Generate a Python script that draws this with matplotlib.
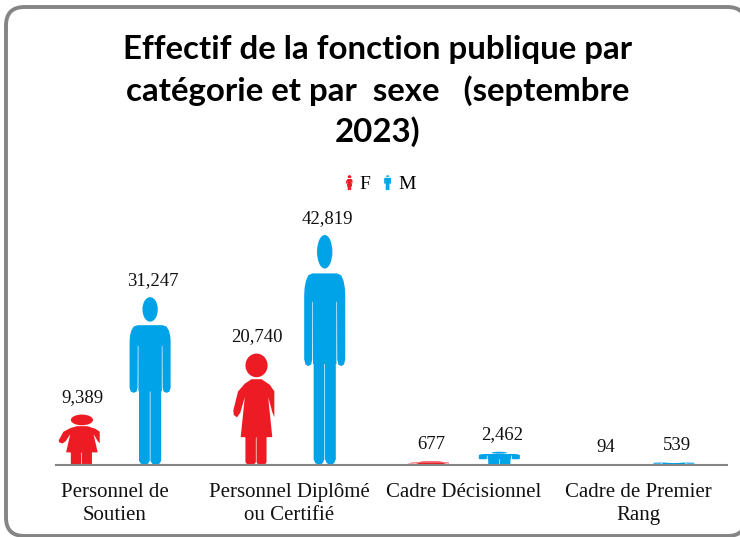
import numpy as np
import matplotlib
matplotlib.use('Agg')
import matplotlib.pyplot as plt
from matplotlib.legend_handler import HandlerPatch
from matplotlib.patches import FancyBboxPatch, PathPatch
from matplotlib.path import Path
from matplotlib.transforms import Affine2D

# values
categories = ['Personnel de\nSoutien', 'Personnel Diplômé\nou Certifié', 'Cadre Décisionnel', 'Cadre de Premier\nRang']
femmes = [9389, 20740, 677, 94]
hommes = [31247, 42819, 2462, 539]

RED = '#ed1c24'
BLUE = '#00a2e8'
W, H = 740, 537


def oval(cx, cy, rx, ry):
    return Path.unit_circle().transformed(Affine2D().scale(rx, ry).translate(cx, cy))


def poly(pts):
    pts = np.array(pts + [pts[0]], dtype=float)
    codes = [Path.MOVETO] + [Path.LINETO] * (len(pts) - 2) + [Path.CLOSEPOLY]
    return Path(pts, codes)


def leg(x0, x1, top):
    # rounded at the foot
    mid = (x0 + x1) / 2
    return poly([(x0, top), (x1, top), (x1, 0.025), (mid + 0.09, 0.008), (mid, 0),
                 (mid - 0.09, 0.008), (x0, 0.025)])


def man_icon():
    # unit silhouette, x in -0.5..0.5, y in 0..1
    right = [(0.30, 0.833), (0.40, 0.825), (0.46, 0.80), (0.49, 0.77), (0.50, 0.74), (0.50, 0.46),
             (0.47, 0.437), (0.40, 0.43), (0.33, 0.437), (0.305, 0.46), (0.30, 0.71), (0.285, 0.71),
             (0.285, 0.44)]
    left = [(-a, b) for a, b in reversed(right)]
    return Path.make_compound_path(oval(0, 0.927, 0.187, 0.073), poly(right + left),
                                   leg(-0.27, -0.008, 0.45), leg(0.008, 0.27, 0.45))


def woman_icon():
    # right arm is cut off in the source icon
    body = poly([(-0.057, 0.77), (0.19, 0.77), (0.39, 0.72), (0.50, 0.66), (0.50, 0.43), (0.45, 0.475),
                 (0.35, 0.61), (0.45, 0.25), (-0.32, 0.25), (-0.22, 0.61), (-0.33, 0.47), (-0.41, 0.427),
                 (-0.49, 0.45), (-0.50, 0.49), (-0.385, 0.66), (-0.22, 0.73)])
    return Path.make_compound_path(oval(0.066, 0.894, 0.27, 0.106), body,
                                   leg(-0.205, 0.05, 0.26), leg(0.066, 0.31, 0.26))


MAN = man_icon()
WOMAN = woman_icon()

fig = plt.figure(figsize=(W / 100, H / 100), dpi=100)
fig.patch.set_facecolor('white')

# rounded frame of the slide, runs off the right edge
fig.add_artist(FancyBboxPatch((6 / W, 1 - 536 / H), 740 / W, 529 / H,
                              boxstyle='round,pad=0,rounding_size=0.025', transform=fig.transFigure,
                              fc='white', ec='#858585', lw=2.8, mutation_aspect=W / H, zorder=-1))

ax = fig.add_axes([56 / W, 1 - 465 / H, 671 / W, 230 / H])
ax.patch.set_alpha(0)
ax.set_xlim(-0.336, 3.507)
ax.set_ylim(0, 42819)

x = np.arange(len(categories))
off = 0.203
bw = 0.235
for i in x:
    ax.add_patch(PathPatch(WOMAN.transformed(Affine2D().scale(bw, femmes[i]).translate(i - off, 0)),
                           fc=RED, ec='none'))
    ax.add_patch(PathPatch(MAN.transformed(Affine2D().scale(bw, hommes[i]).translate(i + off, 0)),
                           fc=BLUE, ec='none'))
    for v, xx in ((femmes[i], i - off), (hommes[i], i + off)):
        ax.annotate(f'{v:,}', (xx, v), xytext=(2, 6), textcoords='offset points', ha='center', va='bottom',
                    family='Liberation Serif', fontsize=13.5, color='#111111', annotation_clip=False)

for s in ('top', 'left', 'right'):
    ax.spines[s].set_visible(False)
ax.spines['bottom'].set_color('#858585')
ax.spines['bottom'].set_linewidth(1.5)
ax.set_yticks([])
ax.set_xticks(x)
ax.set_xticklabels(categories, family='Liberation Serif', fontsize=15, color='#111111', linespacing=1.31)
ax.tick_params(axis='x', length=0, pad=12.7)

fig.text(378 / W, 1 - 91 / H, 'Effectif de la fonction publique par\ncatégorie et par  sexe   (septembre\n2023)',
         ha='center', va='center', family='Lato', weight='bold', fontsize=23.8, linespacing=1.43, color='black')


def legend_icon(legend, orig_handle, xdescent, ydescent, width, height, fontsize):
    icon = orig_handle.get_path()
    return PathPatch(icon.transformed(Affine2D().scale(height * 0.5, height * 1.1).translate(width / 2, -height * 0.1)))


f_handle = PathPatch(WOMAN, fc=RED, ec='none', label='F')
m_handle = PathPatch(MAN, fc=BLUE, ec='none', label='M')
fig.legend(handles=[f_handle, m_handle], loc='center', bbox_to_anchor=(380 / W, 1 - 184 / H), ncol=2,
           frameon=False, prop={'family': 'Liberation Serif', 'size': 14}, handlelength=0.5, handletextpad=0.3,
           columnspacing=0.62, handler_map={PathPatch: HandlerPatch(patch_func=legend_icon)})

fig.savefig('out.png', dpi=100)
